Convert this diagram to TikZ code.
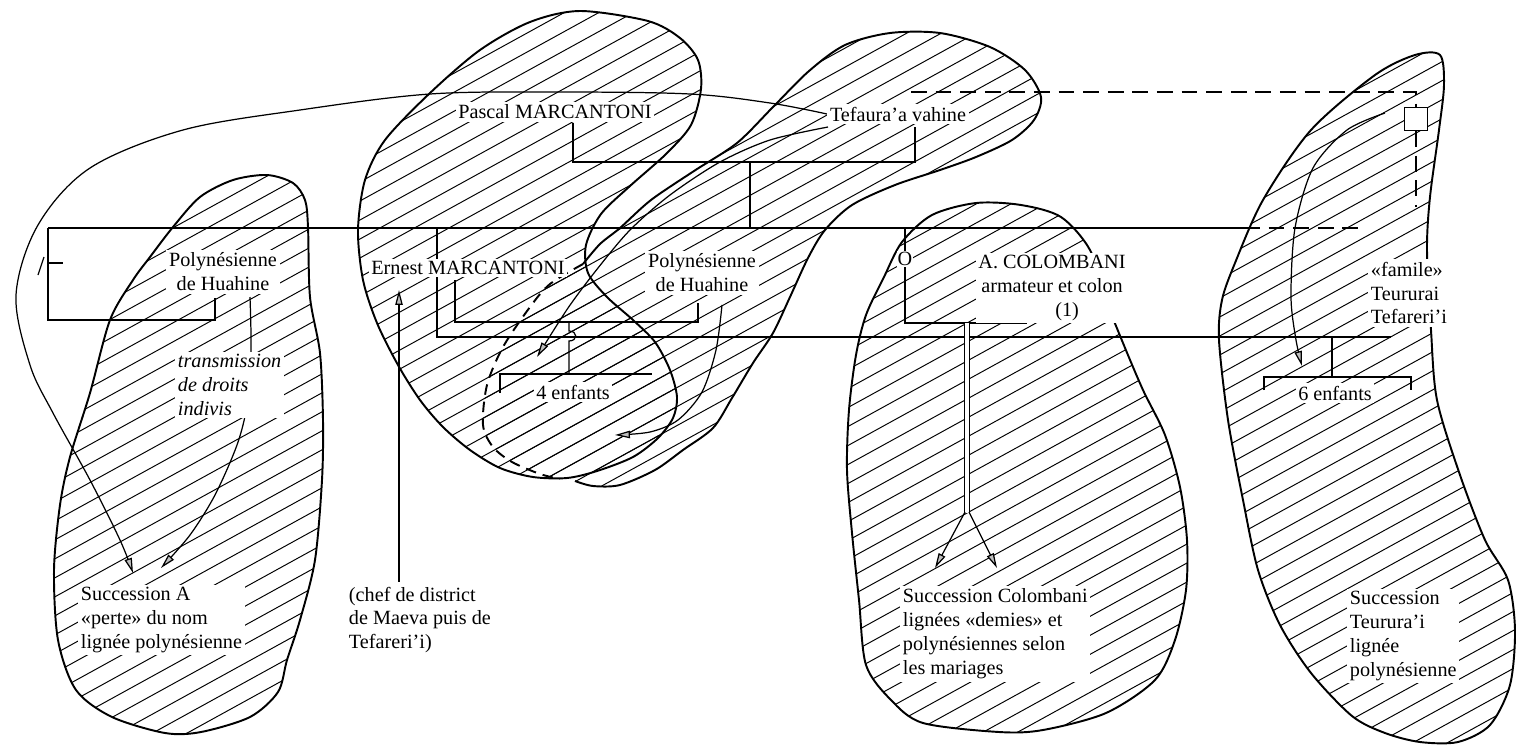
\documentclass[tikz,border=0pt]{standalone}
\usepackage{fontspec}
\setmainfont{Liberation Serif}
\usetikzlibrary{arrows.meta}
\pgfdeclarelayer{hatch}
\pgfdeclarelayer{lines}
\pgfsetlayers{hatch,lines,main}

% oblique hatching, clipped by the current blob
\newcommand{\hatchlines}{%
  \foreach \c in {0,19,...,1600}
    \draw[hatch] (0,\c) -- (1516,\c-834);}

\begin{document}
\begin{tikzpicture}[
    x=0.02cm, y=-0.02cm,
    font=\fontsize{11.5}{13.6}\selectfont,
    >={Triangle[length=8.5pt,width=4.2pt,fill=gray!50]},
    blob/.style={line width=1.1pt},
    hatch/.style={line width=0.55pt},
    link/.style={line width=0.7pt},
    arr/.style={->, line width=0.7pt},
    gap/.style={line width=0.7pt, dash pattern=on 9pt off 5pt},
    lbl/.style={fill=white, inner sep=1.5pt, align=left},
    ctr/.style={fill=white, inner sep=1.5pt, align=center},
    note/.style={lbl, font=\fontsize{11.5}{13.6}\selectfont\itshape}
]
\useasboundingbox (0,0) rectangle (1516,745);

% Names
\node[ctr] (pascal) at (555,112) {Pascal MARCANTONI};
\node[ctr] (tefaura) at (898,114) {Tefaura'a vahine};
\node[ctr] (polyL) at (223,272) {Polynésienne\\de Huahine};
\node[ctr] (ernest) at (468,268) {Ernest MARCANTONI};
\node[ctr] (polyM) at (702,273) {Polynésienne\\de Huahine};
\node[ctr, inner sep=0.5pt] (o) at (905,259) {O};
\node[ctr] (colombani) at (1052,288) {A. COLOMBANI\\armateur et colon\\\hspace*{1.5em}(1)};
\node[lbl, anchor=west] (famile) at (1368,293) {«famile»\\Teururai\\Tefareri'i};
\node[note, anchor=west] (transm) at (175,385) {transmission\\de droits\\indivis};
\node[ctr] (enf4) at (573,392) {4 enfants};
\node[ctr] (enf6) at (1335,393) {6 enfants};
\node[draw, line width=0.7pt, fill=white, minimum size=0.46cm, inner sep=0pt] (sq) at (1416,119) {};

% Successions
\node[lbl, anchor=west] (succA) at (78,620) {Succession A\\«perte» du nom\\lignée polynésienne};
\node[lbl, anchor=west] (chef) at (346,620) {(chef de district\\de Maeva puis de\\Tefareri'i)};
\node[lbl, anchor=west] (succC) at (900,634) {Succession Colombani\\lignées «demies» et\\polynésiennes selon\\les mariages};
\node[lbl, anchor=west] (succT) at (1347,636) {Succession\\Teurura'i\\lignée\\polynésienne};

\coordinate (tipA1) at (133,573);
\coordinate (tipA2) at (161,568);

% Blob outlines
\path[save path=\blobA] plot[smooth cycle] coordinates {(267,175) (293,183) (305,200) (308,227) (310,297) (320,353) (323,420) (322,480) (315,560) (300,620) (287,660) (278,692) (250,717) (201,732) (165,733) (112,717) (76,690) (58,640) (54,570) (60,505) (70,457) (90,393) (110,320) (133,280) (150,257) (173,227) (200,197) (233,180)};
\path[save path=\blobB] plot[smooth cycle] coordinates {(580,11) (648,21) (680,38) (698,60) (701,89) (691,125) (666,154) (630,186) (601,214) (586,245) (588,273) (607,297) (633,320) (655,342) (670,370) (677,397) (673,418) (658,438) (633,457) (597,471) (567,478) (533,477) (500,468) (470,450) (443,427) (420,400) (398,365) (377,323) (363,280) (358,230) (365,180) (385,140) (430,93) (480,50) (530,22)};
\path[save path=\blobC] plot[smooth cycle] coordinates {(976,203) (1021,205) (1061,217) (1090,250) (1106,300) (1123,343) (1143,390) (1165,435) (1180,487) (1187,540) (1186,590) (1175,640) (1155,680) (1106,713) (1043,730) (999,732) (923,723) (891,700) (866,665) (859,600) (852,533) (847,470) (849,410) (856,355) (866,315) (884,277) (902,242) (932,215)};
\path[save path=\blobR] plot[smooth cycle] coordinates {(1440,55) (1444,85) (1439,130) (1430,197) (1427,250) (1431,330) (1437,400) (1460,475) (1485,540) (1508,580) (1515,630) (1510,685) (1490,725) (1458,742) (1420,742) (1385,733) (1352,716) (1311,673) (1280,625) (1258,570) (1243,500) (1228,420) (1219,340) (1222,300) (1235,263) (1263,200) (1311,130) (1375,75) (1415,55)};
\path[save path=\blobS] plot[smooth] coordinates {(583,264) (600,244) (620,228) (651,200) (694,171) (737,143) (773,107) (809,71) (845,45) (890,33) (940,33) (990,47) (1025,70) (1041,97) (1034,120) (1012,140) (976,157) (940,170) (895,185) (852,205) (825,230) (808,258) (790,297) (773,333) (753,363) (732,398) (713,428) (683,450) (655,470) (620,485) (593,486) (575,481)}
    -- plot[smooth] coordinates {(560,479) (540,474) (512,462) (493,447) (483,425) (487,385) (503,347) (530,307) (550,284) (583,264)} -- cycle;

\begin{pgfonlayer}{hatch}
\foreach \b in {\blobA,\blobB,\blobC,\blobR,\blobS} {
  \begin{scope}
    \clip[use path=\b];
    \hatchlines
  \end{scope}
}
\end{pgfonlayer}

\begin{pgfonlayer}{lines}
\draw[blob, use path=\blobA];
\draw[blob, use path=\blobB];
\draw[blob, use path=\blobC];
\draw[blob, use path=\blobR];
\draw[blob] plot[smooth] coordinates {(583,264) (600,244) (620,228) (651,200) (694,171) (737,143) (773,107) (809,71) (845,45) (890,33) (940,33) (990,47) (1025,70) (1041,97) (1034,120) (1012,140) (976,157) (940,170) (895,185) (852,205) (825,230) (808,258) (790,297) (773,333) (753,363) (732,398) (713,428) (683,450) (655,470) (620,485) (593,486) (575,481)};
\draw[blob, dash pattern=on 6pt off 4pt] plot[smooth] coordinates {(583,264) (550,284) (530,307) (503,347) (487,385) (483,425) (493,447) (512,462) (540,474) (560,479)};

% Pascal x Tefaura'a, curve down to Succession A
\draw[arr] plot[smooth, tension=0.55] coordinates {(tefaura.west) (770,103) (690,94) (560,92) (430,94) (300,110) (183,130) (90,168) (38,225) (16,295) (30,365) (53,413) (90,480) (120,540) (tipA1)};
\draw[link] (573,123) |- (915,162) -- (915,127);
\draw[link] (750,162) -- (750,228);
\draw[gap] (911,92) -| (sq.north);
\draw[gap] (sq.south) -- (1416,207);

% sibling line
\draw[link] (48,228) -- (1244,228);
\draw[gap] (1244,228) -- (1362,228);

% left branch
\draw[link] (48,228) |- (215,320) -- (215,298);
\draw[link] (38,275) -- (44,257);
\draw[link] (49,263) -- (63,263);
\draw[arr] plot[smooth] coordinates {(250,297) (251,350) (247,405) (237,445) (215,495) (190,535) (tipA2)};

% Ernest MARCANTONI
\draw[link] (437,228) |- (1391,337);
\draw[link] (455,280) |- (698,322) -- (698,303);
\draw[link] (569,322) -- (569,331) .. controls (578,331) and (578,341) .. (569,341) -- (569,374);
\draw[link] (500,393) |- (652,374);
\draw[arr] plot[smooth] coordinates {(828,127) (770,140) (720,162) (670,195) (630,230) (598,268) (568,308) (537,357)};
\draw[arr] plot[smooth] coordinates {(722,305) (716,350) (702,392) (678,420) (650,432) (615,435)};
\draw[arr] (chef.north west -| 399,0) ++(0,-2) -- (399,290);

% Colombani
\draw[link] (905,228) -- (o.north);
\draw[link] (o.south) |- (1026,323) -- (1026,305);
\draw[line width=0.6pt, double distance=2.4pt] (967,323) -- (967,513);
\draw[arr] (965,512) -- (935,568);
\draw[arr] (969,512) -- (997,568);

% Teurura'i
\draw[link] (1332,337) -- (1332,377);
\draw[link] (1264,390) |- (1411,377) -- (1411,390);
\draw[arr] plot[smooth] coordinates {(1385,113) (1347,130) (1313,168) (1295,228) (1291,297) (1296,340) (1302,366)};
\end{pgfonlayer}

\end{tikzpicture}
\end{document}
